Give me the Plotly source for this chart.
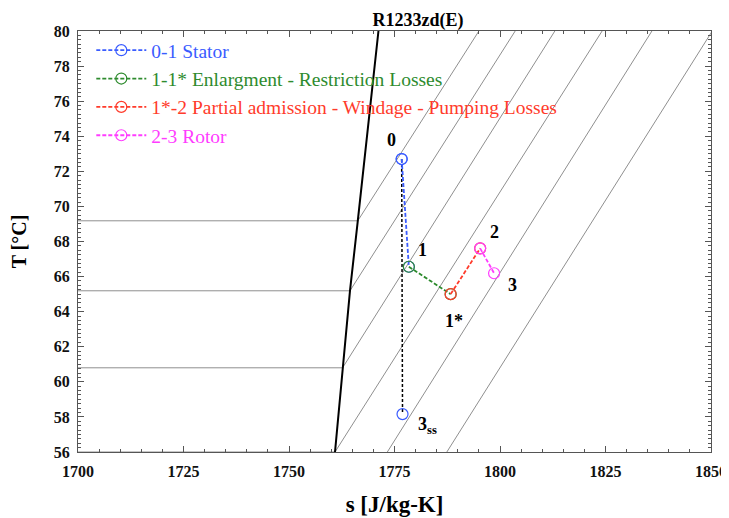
import plotly.graph_objects as go

# ---------------- data ----------------
# saturated vapour line
sat_s = [1760.9, 1762.7, 1764.45, 1766.3, 1771.2]
sat_T = [56.0, 60.8, 65.19, 69.18, 80.0]

# isobars (horizontal two-phase part + superheated part)
iso_s = [
    [1700.0, 1766.3, 1795.0],
    [1700.0, 1764.45, 1803.6],
    [1700.0, 1762.7, 1813.0],
    [1700.0, 1760.9, 1824.2],
    [1773.3, 1836.0],
    [1787.4, 1850.3],
]
iso_T = [
    [69.18, 69.18, 80.0],
    [65.19, 65.19, 80.0],
    [60.8, 60.8, 80.0],
    [56.0, 56.0, 80.0],
    [56.0, 80.0],
    [56.0, 80.0],
]

# expansion processes
stator_s, stator_T = [1776.7, 1778.4], [72.70, 66.56]
enlarg_s, enlarg_T = [1778.4, 1788.3], [66.56, 65.00]
partial_s, partial_T = [1788.3, 1795.3], [65.00, 67.61]
rotor_s, rotor_T = [1795.3, 1798.6], [67.61, 66.19]
isen_s, isen_T = [1776.7, 1776.9], [72.70, 58.16]

state_names = ["0", "1", "1*", "2", "3", "3<sub>ss</sub>"]
state_s = [1776.7, 1778.4, 1788.3, 1795.3, 1798.6, 1776.9]
state_T = [72.70, 66.56, 65.00, 67.61, 66.19, 58.16]

series_names = [
    "0-1 Stator",
    "1-1* Enlargment - Restriction Losses",
    "1*-2 Partial admission - Windage - Pumping Losses",
    "2-3 Rotor",
]

# ---------------- styling ----------------
SERIF = "'Liberation Serif', 'Times New Roman', Times, serif"
BLUE, GREEN, RED, MAG = "#3a5cff", "#2e8b2e", "#ff3b2b", "#ff3cff"
ISO_COL = "#8f8f8f"

fig = go.Figure()

for xs, ys in zip(iso_s, iso_T):
    fig.add_trace(go.Scatter(x=xs, y=ys, mode="lines",
                             line=dict(color=ISO_COL, width=1),
                             showlegend=False, hoverinfo="skip"))

fig.add_trace(go.Scatter(x=sat_s, y=sat_T, mode="lines",
                         line=dict(color="black", width=2),
                         showlegend=False, hoverinfo="skip"))

fig.add_trace(go.Scatter(x=isen_s, y=isen_T, mode="lines+markers",
                         line=dict(color="black", width=1.5, dash="3px,2px"),
                         marker=dict(symbol="circle-open", size=11,
                                     color=BLUE, line=dict(width=1.2, color=BLUE)),
                         showlegend=False))

proc = [(stator_s, stator_T, BLUE), (enlarg_s, enlarg_T, GREEN),
        (partial_s, partial_T, RED), (rotor_s, rotor_T, MAG)]
for (xs, ys, col), nm in zip(proc, series_names):
    fig.add_trace(go.Scatter(
        x=xs, y=ys, mode="lines+markers",
        name=f'<span style="color:{col}">{nm}</span>',
        line=dict(color=col, width=1.8, dash="4px,2px"),
        marker=dict(symbol="circle-open", size=11, color=col,
                    line=dict(width=1.2, color=col)),
    ))

# state point labels
shifts = [(-10, 19), (14, 17), (3, -27), (14, 16), (18, -12), (25, -11)]
for nm, sx, ty, (dx, dy) in zip(state_names, state_s, state_T, shifts):
    fig.add_annotation(x=sx, y=ty, text=nm, showarrow=False,
                       xshift=dx, yshift=dy,
                       font=dict(family=SERIF, size=18, color="black", weight="bold"))

axis_common = dict(
    showline=True, linecolor="#555555", linewidth=1, mirror="allticks",
    ticks="inside", ticklen=6, tickcolor="#555555", tickwidth=1,
    showgrid=False, zeroline=False, automargin=False,
    tickfont=dict(family=SERIF, size=16, color="#111111", weight="bold"),
)

fig.update_xaxes(range=[1700, 1850], dtick=25, tick0=1700,
                 ticklabelstandoff=5,
                 minor=dict(dtick=5, ticks="inside", ticklen=3, tickcolor="#555555"),
                 title=dict(text="s [J/kg-K]", standoff=16,
                            font=dict(family=SERIF, size=23, color="black", weight="bold")),
                 **axis_common)
fig.update_yaxes(range=[56, 80], dtick=2, tick0=56,
                 ticklabelstandoff=4,
                 minor=dict(dtick=0.25, ticks="inside", ticklen=3, tickcolor="#555555"),
                 title=dict(text="T [°C]", standoff=22,
                            font=dict(family=SERIF, size=20, color="black", weight="bold")),
                 **axis_common)

# the page body adds an 8 px margin, so the figure is sized to fill the rest
fig.update_layout(
    width=721, height=510,
    margin=dict(l=70, r=18, t=23, b=66, autoexpand=False),
    paper_bgcolor="white", plot_bgcolor="white",
    title=dict(text="R1233zd(E)", x=0.537, xref="paper", xanchor="center",
               y=1 - 12 / 510, yref="container", yanchor="middle",
               font=dict(family=SERIF, size=18, color="black", weight="bold")),
    legend=dict(x=0.021, y=1.0, xanchor="left", yanchor="top",
                bgcolor="rgba(0,0,0,0)", borderwidth=0,
                itemwidth=50, tracegroupgap=0,
                font=dict(family=SERIF, size=19.5, color="black")),
    showlegend=True,
)

fig.write_html("out.html")
